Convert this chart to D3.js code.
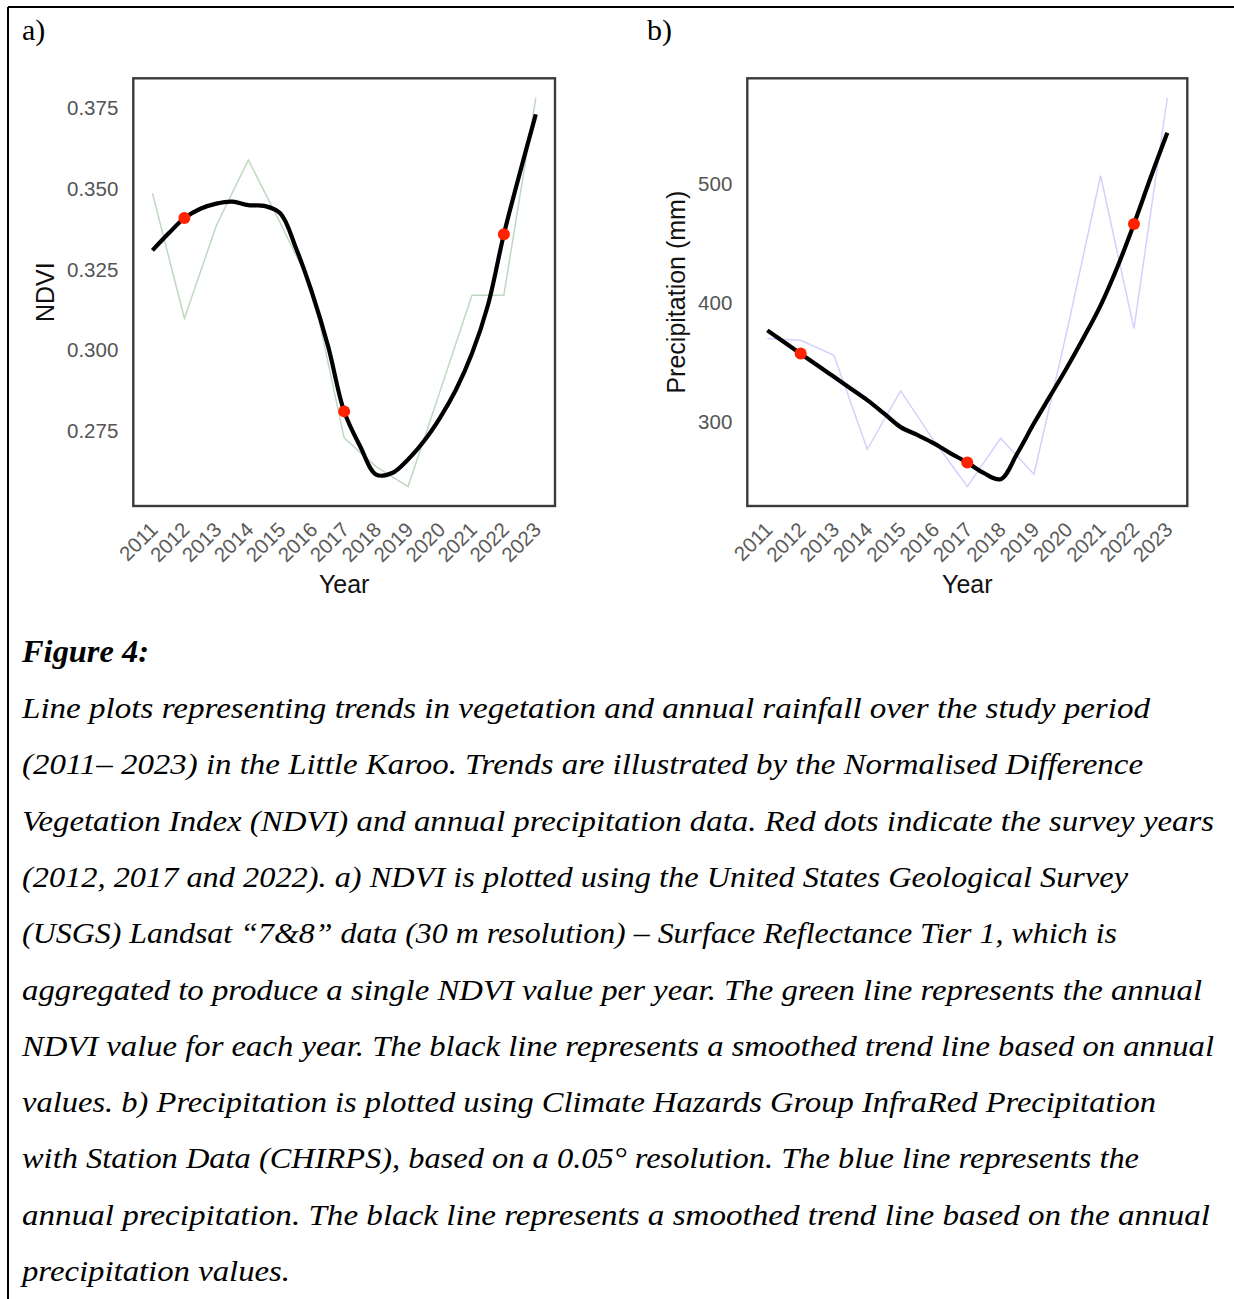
<!DOCTYPE html>
<html>
<head>
<meta charset="utf-8">
<script src="https://cdn.jsdelivr.net/npm/d3@7"></script>
<style>
  body { margin: 0; background: #fff; }
  svg { display: block; }
</style>
</head>
<body>
<svg id="fig" width="1234" height="1299"></svg>
<script>
// ---- annual series -------------------------------------------------------
const years = [2011, 2012, 2013, 2014, 2015, 2016, 2017, 2018, 2019, 2020, 2021, 2022, 2023];
const ndviAnnual = [0.3487, 0.3099, 0.3387, 0.3590, 0.3395, 0.3192, 0.2729, 0.2640, 0.2578, 0.2873, 0.3171, 0.3171, 0.3783];
const precipAnnual = [370.3, 368.9, 356.3, 277.4, 326.4, 284.5, 246.1, 286.6, 256.5, 378.0, 507.0, 378.7, 572.5];

// ---- smoothed trend, sampled every half year ----------------------------
const smoothYears = [2011, 2011.5, 2012, 2012.5, 2013, 2013.5, 2014, 2014.5, 2015, 2015.5, 2016, 2016.5,
                     2017, 2017.5, 2018, 2018.5, 2019, 2019.5, 2020, 2020.5, 2021, 2021.5, 2022, 2022.5, 2023];
const ndviSmooth = [0.3310, 0.3362, 0.3410, 0.3439, 0.3455, 0.3461, 0.3450, 0.3448, 0.3425, 0.3315, 0.3177, 0.3012,
                    0.2811, 0.2703, 0.2615, 0.2620, 0.2662, 0.2719, 0.2791, 0.2878, 0.2990, 0.3140, 0.3360, 0.3550, 0.3732];
const precipSmooth = [377.2, 367.4, 357.7, 347.9, 338.2, 328.5, 318.7, 307.5, 296.0, 289.4, 282.4, 274.0,
                      266.2, 257.3, 252.3, 274.0, 299.2, 322.8, 346.5, 371.6, 398.2, 430.2, 466.5, 505.5, 543.2];

// survey years highlighted on the trend line
const surveyYears = [2012, 2017, 2022];

// ---- tick labels ----------------------------------------------------------
const ndviTicks = [0.275, 0.300, 0.325, 0.350, 0.375];
const precipTicks = [300, 400, 500];
const yearTicks = years;

// ---- caption --------------------------------------------------------------
const captionTitle = "Figure 4:";
const captionLines = [
  "Line plots representing trends in vegetation and annual rainfall over the study period",
  "(2011\u2013 2023) in the Little Karoo. Trends are illustrated by the Normalised Difference",
  "Vegetation Index (NDVI) and annual precipitation data. Red dots indicate the survey years",
  "(2012, 2017 and 2022). a) NDVI is plotted using the United States Geological Survey",
  "(USGS) Landsat \u201c7&8\u201d data (30 m resolution) \u2013 Surface Reflectance Tier 1, which is",
  "aggregated to produce a single NDVI value per year. The green line represents the annual",
  "NDVI value for each year. The black line represents a smoothed trend line based on annual",
  "values. b) Precipitation is plotted using Climate Hazards Group InfraRed Precipitation",
  "with Station Data (CHIRPS), based on a 0.05\u00b0 resolution. The blue line represents the",
  "annual precipitation. The black line represents a smoothed trend line based on the annual",
  "precipitation values."
];
// layout: right end of each caption line in the text column (px)
const captionLineEnds = [1150, 1143, 1214, 1128, 1117, 1202, 1214, 1156, 1139, 1210, 290];

// ---------------------------------------------------------------------------
const svg = d3.select("#fig");
const SANS = "'Liberation Sans', Arial, sans-serif";
const SERIF = "'Liberation Serif', 'Times New Roman', serif";

// page frame (table cell edges)
svg.append("line").attr("x1", 8).attr("x2", 1234).attr("y1", 7).attr("y2", 7)
  .attr("stroke", "#000").attr("stroke-width", 2);
svg.append("line").attr("x1", 8).attr("x2", 8).attr("y1", 7).attr("y2", 1299)
  .attr("stroke", "#000").attr("stroke-width", 2);

// panel letters
svg.append("text").attr("x", 22).attr("y", 40).text("a)")
  .attr("font-family", SERIF).attr("font-size", 30).attr("fill", "#000");
svg.append("text").attr("x", 647).attr("y", 40).text("b)")
  .attr("font-family", SERIF).attr("font-size", 30).attr("fill", "#000");

function expand(ext, f) {
  const d = (ext[1] - ext[0]) * f;
  return [ext[0] - d, ext[1] + d];
}

function drawPanel(cfg) {
  const { box, annual, smooth, lineColor, lineOpacity, ticks, tickFmt, yTitle, yTitleX } = cfg;
  const g = svg.append("g");

  const x = d3.scaleLinear()
    .domain(expand(d3.extent(years), 0.05))
    .range([box.left, box.right]);
  const yExt = d3.extent(annual.concat(smooth));
  const y = d3.scaleLinear()
    .domain(expand(yExt, 0.05))
    .range([box.bottom, box.top]);

  // annual values
  g.append("path")
    .datum(years.map((yr, i) => [yr, annual[i]]))
    .attr("fill", "none")
    .attr("stroke", lineColor)
    .attr("stroke-opacity", lineOpacity)
    .attr("stroke-width", 1.5)
    .attr("stroke-linejoin", "miter")
    .attr("d", d3.line().x(d => x(d[0])).y(d => y(d[1])));

  // smoothed trend
  g.append("path")
    .datum(smoothYears.map((yr, i) => [yr, smooth[i]]))
    .attr("fill", "none")
    .attr("stroke", "#000")
    .attr("stroke-width", 4.2)
    .attr("stroke-linecap", "butt")
    .attr("d", d3.line().curve(d3.curveCatmullRom.alpha(0.5)).x(d => x(d[0])).y(d => y(d[1])));

  // survey-year markers on the trend
  g.selectAll("circle.survey")
    .data(surveyYears.map(yr => [yr, smooth[smoothYears.indexOf(yr)]]))
    .join("circle")
    .attr("class", "survey")
    .attr("cx", d => x(d[0]))
    .attr("cy", d => y(d[1]))
    .attr("r", 6)
    .attr("fill", "#ff2200");

  // panel border
  g.append("rect")
    .attr("x", box.left).attr("y", box.top)
    .attr("width", box.right - box.left).attr("height", box.bottom - box.top)
    .attr("fill", "none").attr("stroke", "#3a3a3a").attr("stroke-width", 2.4);

  // y axis labels
  const yAxis = d3.axisLeft(y).tickValues(ticks).tickFormat(tickFmt).tickSize(0).tickPadding(15);
  const ya = g.append("g").attr("transform", `translate(${box.left},0)`).call(yAxis);
  ya.select(".domain").remove();
  ya.selectAll("text")
    .attr("font-family", SANS).attr("font-size", 20.5).attr("fill", "#555");

  // x axis labels, rotated
  const xAxis = d3.axisBottom(x).tickValues(yearTicks).tickFormat(d3.format("d")).tickSize(0);
  const xa = g.append("g").attr("transform", `translate(0,${box.bottom})`).call(xAxis);
  xa.select(".domain").remove();
  xa.selectAll("text")
    .attr("font-family", SANS).attr("font-size", 20.5).attr("fill", "#5a5a5a")
    .attr("text-anchor", "end")
    .attr("y", 0)
    .attr("dy", 0)
    .attr("transform", "translate(6,25) rotate(-45)");

  // titles
  g.append("text")
    .attr("x", (box.left + box.right) / 2).attr("y", box.bottom + 87)
    .attr("text-anchor", "middle")
    .attr("font-family", SANS).attr("font-size", 25).attr("fill", "#111")
    .text("Year");
  g.append("text")
    .attr("transform", `translate(${yTitleX},${(box.top + box.bottom) / 2}) rotate(-90)`)
    .attr("text-anchor", "middle")
    .attr("font-family", SANS).attr("font-size", 25).attr("fill", "#111")
    .text(yTitle);
}

drawPanel({
  box: { left: 133.3, right: 555, top: 78.3, bottom: 506 },
  annual: ndviAnnual, smooth: ndviSmooth,
  lineColor: "#006400", lineOpacity: 0.25,
  ticks: ndviTicks, tickFmt: d3.format(".3f"),
  yTitle: "NDVI", yTitleX: 54
});

drawPanel({
  box: { left: 747.3, right: 1187.3, top: 78.3, bottom: 506 },
  annual: precipAnnual, smooth: precipSmooth,
  lineColor: "#0000ff", lineOpacity: 0.18,
  ticks: precipTicks, tickFmt: d3.format("d"),
  yTitle: "Precipitation (mm)", yTitleX: 685
});

// caption
const cap = svg.append("g").attr("font-family", SERIF).attr("font-style", "italic").attr("fill", "#000");
cap.append("text").attr("x", 22).attr("y", 662)
  .attr("font-weight", "bold").attr("font-size", 31)
  .attr("textLength", 127).attr("lengthAdjust", "spacingAndGlyphs")
  .text(captionTitle);

cap.selectAll("text.line")
  .data(captionLines)
  .join("text")
  .attr("class", "line")
  .attr("x", 22)
  .attr("y", (d, i) => 718 + i * 56.3)
  .attr("font-size", 30)
  .attr("textLength", (d, i) => captionLineEnds[i] - 22)
  .attr("lengthAdjust", "spacingAndGlyphs")
  .text(d => d);
</script>
</body>
</html>
